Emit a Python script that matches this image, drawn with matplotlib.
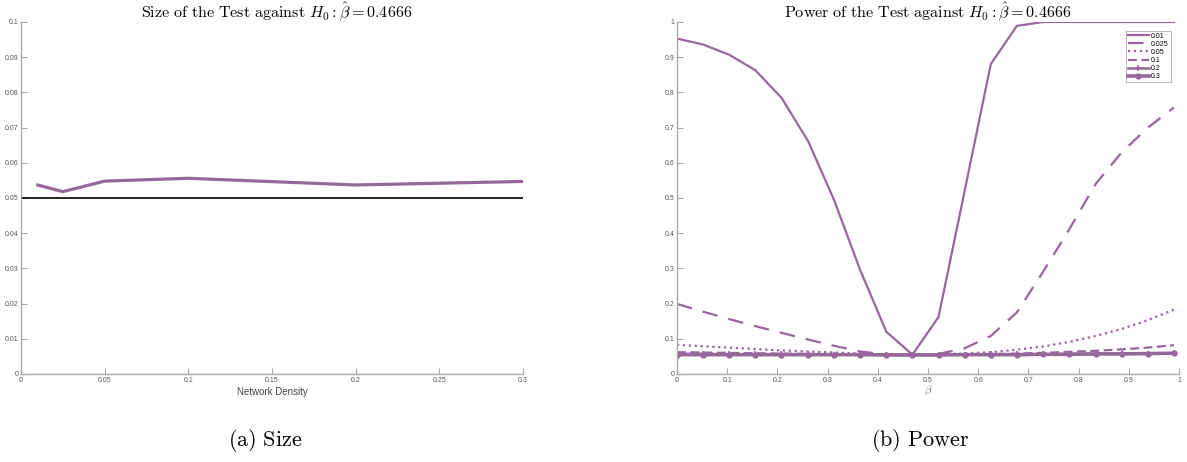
import matplotlib.pyplot as plt

plt.rcParams['mathtext.fontset'] = 'cm'
plt.rcParams['font.family'] = ['Liberation Sans', 'DejaVu Sans']

# size panel data
density = [0.01, 0.025, 0.05, 0.1, 0.2, 0.3]
size_vals = [0.0537, 0.0518, 0.0548, 0.0556, 0.0537, 0.0547]
nominal = 0.05

# power panel data
beta = [0.0, 0.052, 0.104, 0.156, 0.208, 0.261, 0.313, 0.365, 0.417, 0.469,
        0.521, 0.573, 0.625, 0.677, 0.729, 0.781, 0.834, 0.886, 0.938, 0.99]
power_001 = [0.953, 0.936, 0.907, 0.863, 0.785, 0.662, 0.494, 0.295, 0.12, 0.055,
             0.162, 0.52, 0.88, 0.989, 1.0, 1.0, 1.0, 1.0, 1.0, 1.0]
power_0025 = [0.199, 0.177, 0.156, 0.136, 0.117, 0.098, 0.080, 0.064, 0.055, 0.053,
              0.057, 0.073, 0.108, 0.175, 0.29, 0.41, 0.54, 0.63, 0.70, 0.757]
power_005 = [0.083, 0.079, 0.075, 0.071, 0.067, 0.064, 0.061, 0.058, 0.056, 0.055,
             0.056, 0.058, 0.062, 0.069, 0.078, 0.091, 0.108, 0.128, 0.153, 0.183]
power_01 = [0.062, 0.061, 0.060, 0.059, 0.058, 0.057, 0.056, 0.055, 0.054, 0.054,
            0.054, 0.055, 0.056, 0.058, 0.060, 0.063, 0.066, 0.070, 0.075, 0.082]
power_02 = [0.057, 0.057, 0.056, 0.056, 0.056, 0.056, 0.055, 0.055, 0.055, 0.055,
            0.055, 0.055, 0.056, 0.056, 0.056, 0.057, 0.057, 0.058, 0.058, 0.059]
power_03 = [0.055, 0.055, 0.055, 0.055, 0.055, 0.055, 0.055, 0.055, 0.054, 0.054,
            0.054, 0.055, 0.055, 0.055, 0.056, 0.056, 0.057, 0.057, 0.058, 0.059]
alpha_labels = ['0.01', '0.025', '0.05', '0.1', '0.2', '0.3']

purple = '#96679a'
grey = '#a8a8a8'
tick_col = '#555555'

fig = plt.figure(figsize=(11.87, 4.62), dpi=100)
ax1 = fig.add_axes([21 / 1187, 1 - 374 / 462, 502 / 1187, 352 / 462])
ax2 = fig.add_axes([677 / 1187, 1 - 374 / 462, 502 / 1187, 352 / 462])


def style_axis(ax):
    for s in ['top', 'right']:
        ax.spines[s].set_visible(False)
    for s in ['left', 'bottom']:
        ax.spines[s].set_color(grey)
        ax.spines[s].set_linewidth(1.0)
    ax.tick_params(direction='in', length=4, width=0.8, color=grey,
                   labelsize=5, labelcolor=tick_col, pad=2)


# left panel: size
ax1.plot(density, size_vals, color=purple, lw=2.3)
ax1.axhline(nominal, color='black', lw=1.2)
ax1.set_xlim(0, 0.3)
ax1.set_ylim(0, 0.1)
ax1.set_xticks([0, 0.05, 0.1, 0.15, 0.2, 0.25, 0.3])
ax1.set_xticklabels(['0', '0.05', '0.1', '0.15', '0.2', '0.25', '0.3'])
ax1.set_yticks([i / 100 for i in range(11)])
ax1.set_yticklabels(['0'] + ['0.0%d' % i for i in range(1, 10)] + ['0.1'])
style_axis(ax1)
ax1.set_xlabel('Network Density', fontsize=7, color='#444444', labelpad=2)

# right panel: power
ax2.plot(beta, power_001, color=purple, lw=1.6, label=alpha_labels[0])
ax2.plot(beta, power_0025, color=purple, lw=1.6, dashes=(7, 5), label=alpha_labels[1])
ax2.plot(beta, power_005, color=purple, lw=1.6, linestyle=':', label=alpha_labels[2])
ax2.plot(beta, power_01, color=purple, lw=1.6, dashes=(4, 2), label=alpha_labels[3])
ax2.plot(beta, power_02, color=purple, lw=1.8, marker='+', ms=4, mew=1.2, label=alpha_labels[4])
ax2.plot(beta, power_03, color=purple, lw=2.6, marker='o', ms=3.5, label=alpha_labels[5])
ax2.set_xlim(0, 1)
ax2.set_ylim(0, 1)
ax2.set_xticks([i / 10 for i in range(11)])
ax2.set_xticklabels(['0'] + ['0.%d' % i for i in range(1, 10)] + ['1'])
ax2.set_yticks([i / 10 for i in range(11)])
ax2.set_yticklabels(['0'] + ['0.%d' % i for i in range(1, 10)] + ['1'])
style_axis(ax2)
ax2.set_xlabel(r'$\beta$', fontsize=8, color='#777777', labelpad=0)
leg = ax2.legend(loc='upper right', bbox_to_anchor=(0.99, 0.985), fontsize=5,
                 frameon=True, fancybox=False, handlelength=3, labelspacing=0.15,
                 borderpad=0.3, handletextpad=0.3)
leg.get_frame().set_edgecolor('#999999')
leg.get_frame().set_linewidth(0.6)

# titles (placed on the figure so the hat is not clipped)
fig.text(277 / 1187, 1 - 17 / 462,
         r'$\mathrm{Size\ of\ the\ Test\ against}\ H_0:\hat{\beta}=0.4666$',
         fontsize=11.6, ha='center', va='baseline')
fig.text(928 / 1187, 1 - 17 / 462,
         r'$\mathrm{Power\ of\ the\ Test\ against}\ H_0:\hat{\beta}=0.4666$',
         fontsize=11.6, ha='center', va='baseline')

# captions
fig.text(265 / 1187, 1 - 441 / 462, r'$\mathrm{(a)\ Size}$', fontsize=16,
         ha='center', va='center')
fig.text(920 / 1187, 1 - 441 / 462, r'$\mathrm{(b)\ Power}$', fontsize=16,
         ha='center', va='center')

fig.savefig('out.png', dpi=100)
